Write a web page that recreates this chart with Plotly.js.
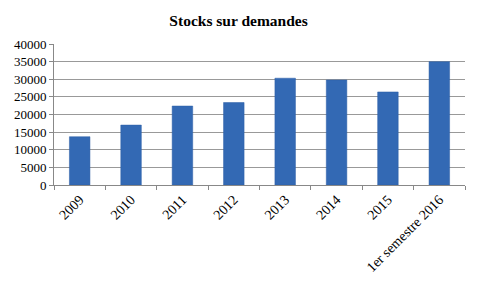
<!DOCTYPE html>
<html><head><meta charset="utf-8">
<script src="https://cdn.plot.ly/plotly-3.0.1.min.js"></script>
<style>html,body{margin:0;padding:0;background:#fff}#c{width:480px;height:288px}</style>
</head><body><div id="c"></div>
<script>
const categories = ["2009","2010","2011","2012","2013","2014","2015","1er semestre 2016"];
const stocks = [13700, 17000, 22400, 23400, 30300, 29800, 26400, 35000];
const yTicks = [0,5000,10000,15000,20000,25000,30000,35000,40000];

Plotly.newPlot('c', [{
  type: 'bar', x: categories, y: stocks,
  marker: {color: '#3369b4', line: {color: '#2c5ea6', width: 0.5}},
  hoverinfo: 'skip'
}], {
  width: 480, height: 288,
  margin: {l: 54, r: 15, t: 44, b: 103},
  paper_bgcolor: '#fff', plot_bgcolor: '#fff',
  bargap: 0.6,
  showlegend: false,
  title: {text: '<b>Stocks sur demandes</b>', x: 0.497, xanchor: 'center', y: 0.93, yanchor: 'middle',
          font: {family: 'Liberation Serif, serif', size: 15.5, color: '#000'}},
  font: {family: 'Liberation Serif, serif', size: 13, color: '#000'},
  xaxis: {type: 'category', tickangle: -45, showline: true, linecolor: '#888', linewidth: 1,
          ticks: 'outside', tickson: 'boundaries', ticklen: 4, tickcolor: '#888',
          showgrid: false, tickfont: {family: 'Liberation Serif, serif', size: 14}},
  yaxis: {range: [0, 40000], tickvals: yTicks, ticktext: yTicks.map(String),
          showline: true, linecolor: '#888', linewidth: 1, ticks: 'outside', ticklen: 4, tickcolor: '#888',
          showgrid: true, gridcolor: '#999', gridwidth: 1, zeroline: false,
          tickfont: {family: 'Liberation Serif, serif', size: 13}}
}, {staticPlot: true});
</script></body></html>
